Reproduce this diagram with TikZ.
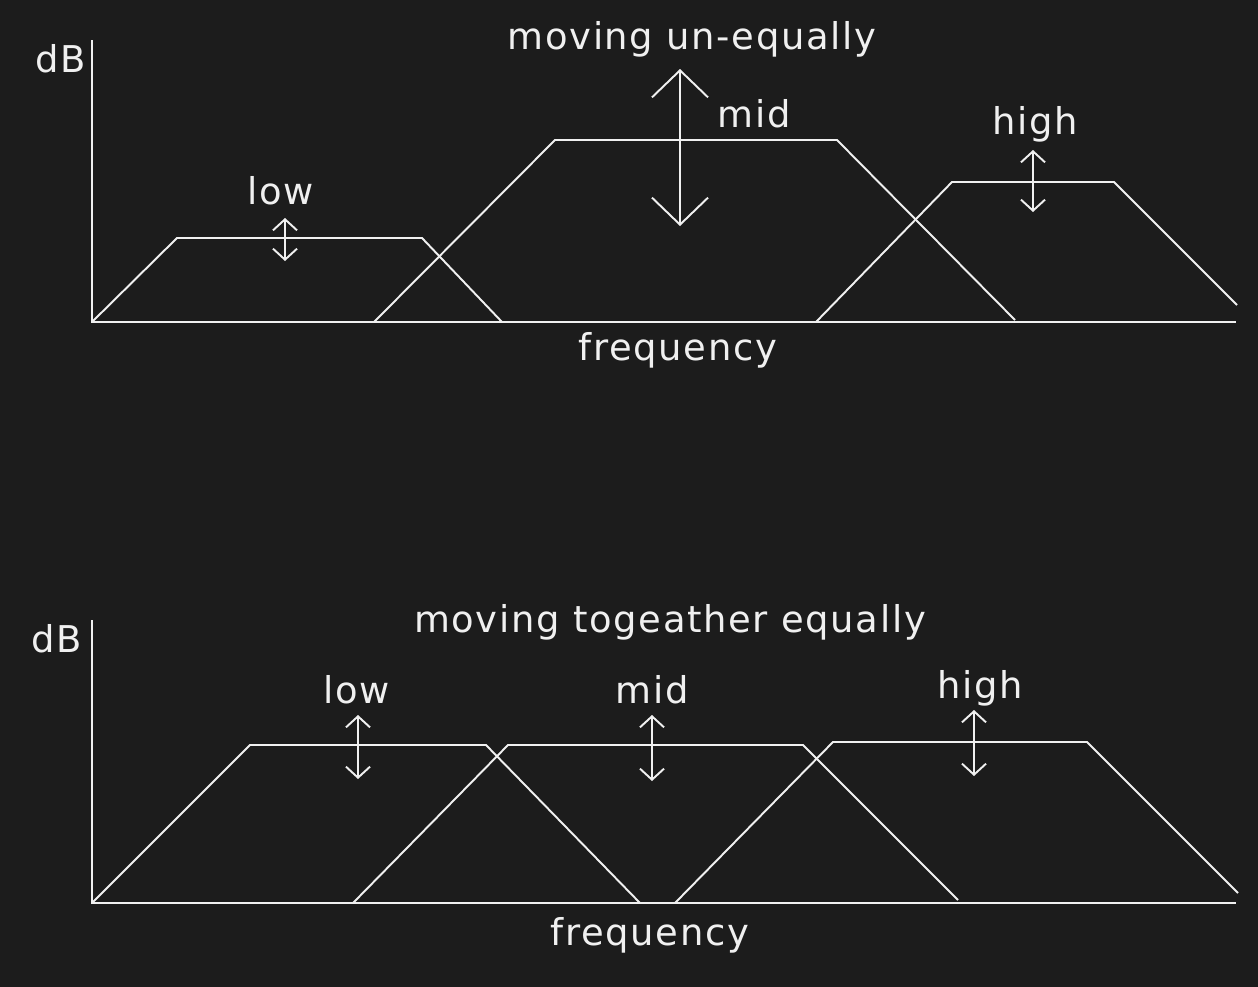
\documentclass[tikz,border=0pt]{standalone}
\usepackage{fontspec}
\setmainfont{DejaVu Sans}[LetterSpace=4.5]
\usetikzlibrary{arrows.meta}
\definecolor{cBack}{HTML}{1C1C1C}
\definecolor{cLine}{HTML}{F0F0F0}

\begin{document}
\begin{tikzpicture}[
  x=0.02cm, y=-0.02cm,
  band/.style={draw=cLine, line width=1.1pt},
  axis/.style={draw=cLine, line width=1.1pt},
  lbl/.style={text=cLine, font=\fontsize{21}{24}\selectfont, inner sep=0pt, anchor=base},
  bigarr/.style={draw=cLine, line width=1.1pt,
    {Straight Barb[length=0.54cm, width=1.12cm]}-{Straight Barb[length=0.54cm, width=1.12cm]}},
  smallarr/.style={draw=cLine, line width=1.1pt,
    {Straight Barb[length=0.22cm, width=0.48cm]}-{Straight Barb[length=0.22cm, width=0.48cm]}},
]
\fill[cBack] (0,0) rectangle (1258,987);
\useasboundingbox (0,0) rectangle (1258,987);

% top panel: moving un-equally
\coordinate (yA) at (92,40);
\coordinate (oA) at (92,322);
\coordinate (xA) at (1236,322);
\draw[axis] (yA) -- (oA) -- (xA);
\node[lbl] (dbA) at (61,72) {dB};
\node[lbl] (freqA) at (678,360) {frequency};
\node[lbl] (titleA) at (692,50) {moving un-equally};

\draw[band] (92,322) -- (177,238) -- (422,238) -- (502,322);
\draw[band] (374,322) -- (555,140) -- (837,140) -- (1015,320);
\draw[band] (816,322) -- (952,182) -- (1114,182) -- (1237,305);

\coordinate (lowA1) at (285,218);
\coordinate (lowA2) at (285,261);
\coordinate (midA1) at (680,69);
\coordinate (midA2) at (680,226);
\coordinate (highA1) at (1033,150);
\coordinate (highA2) at (1033,212);
\draw[smallarr] (lowA1) -- (lowA2);
\draw[bigarr] (midA1) -- (midA2);
\draw[smallarr] (highA1) -- (highA2);
\node[lbl] (lowA) at (281,204) {low};
\node[lbl] (midA) at (754,127) {mid};
\node[lbl] (highA) at (1035,134) {high};

% bottom panel: moving together
\coordinate (yB) at (92,620);
\coordinate (oB) at (92,903);
\coordinate (xB) at (1236,903);
\draw[axis] (yB) -- (oB) -- (xB);
\node[lbl] (dbB) at (57,652) {dB};
\node[lbl] (freqB) at (650,945) {frequency};
\node[lbl] (titleB) at (670,632) {moving togeather equally};

\draw[band] (92,903) -- (250,745) -- (486,745) -- (640,903);
\draw[band] (353,903) -- (508,745) -- (803,745) -- (958,900);
\draw[band] (675,903) -- (833,742) -- (1087,742) -- (1238,893);

\coordinate (lowB1) at (358,715);
\coordinate (lowB2) at (358,779);
\coordinate (midB1) at (652,715);
\coordinate (midB2) at (652,781);
\coordinate (highB1) at (974,710);
\coordinate (highB2) at (974,776);
\draw[smallarr] (lowB1) -- (lowB2);
\draw[smallarr] (midB1) -- (midB2);
\draw[smallarr] (highB1) -- (highB2);
\node[lbl] (lowB) at (357,703) {low};
\node[lbl] (midB) at (652,703) {mid};
\node[lbl] (highB) at (980,698) {high};
\end{tikzpicture}
\end{document}
